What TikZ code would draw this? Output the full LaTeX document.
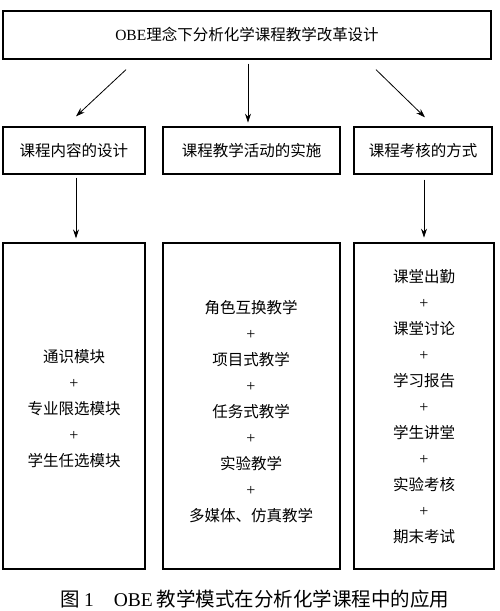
\documentclass[tikz,border=0pt]{standalone}
\usepackage{fontspec}
\setmainfont{Liberation Serif}
\newfontfamily\cjk{Noto Sans CJK SC}
\usetikzlibrary{arrows.meta,calc}
\newcommand{\andsign}{{\rmfamily\fontsize{16}{26}\selectfont +}}

\tikzset{
  box/.style={draw,line width=1.3pt,inner sep=0pt,align=center,
    font=\cjk\fontsize{15.5}{26}\selectfont},
  txt/.style={inner sep=0pt,align=center,font=\cjk\fontsize{15.5}{26}\selectfont},
  arr/.style={-{Stealth[length=9pt,width=6pt]},line width=0.8pt},
}

\begin{document}
\begin{tikzpicture}[x=1pt,y=-1pt]
\useasboundingbox (0,0) rectangle (500,611);
% --- title box ---
\node[box,minimum width=488pt,minimum height=48pt] (top) at (247,35) {{\rmfamily OBE}理念下分析化学课程教学改革设计};

% --- second row ---
\node[box,minimum width=142pt,minimum height=47pt] (c1) at (74,150.5) {课程内容的设计};
\node[box,minimum width=177pt,minimum height=47pt] (c2) at (251.5,150.5) {课程教学活动的实施};
\node[box,minimum width=138pt,minimum height=47pt] (c3) at (423,150.5) {课程考核的方式};

% --- third row ---
\node[box,minimum width=142pt,minimum height=326pt] (d1) at (74,406) {};
\node[box,minimum width=177pt,minimum height=326pt] (d2) at (251.5,406) {};
\node[box,minimum width=140pt,minimum height=326pt] (d3) at (424,406) {};
\node[txt] (d1t) at ($(d1.center)+(0,2.5)$)
  {通识模块\\\andsign\\专业限选模块\\\andsign\\学生任选模块};
\node[txt] (d2t) at ($(d2.center)+(-0.5,5.5)$)
  {角色互换教学\\\andsign\\项目式教学\\\andsign\\任务式教学\\\andsign\\实验教学\\\andsign\\多媒体、仿真教学};
\node[txt] (d3t) at ($(d3.center)+(0,1)$)
  {课堂出勤\\\andsign\\课堂讨论\\\andsign\\学习报告\\\andsign\\学生讲堂\\\andsign\\实验考核\\\andsign\\期末考试};

% --- arrows ---
\draw[arr] ($(top.south)+(-121,10)$) -- ($(c1.north)+(2,-10)$);
\draw[arr] ($(top.south)+(1,4)$) -- ($(top.south)+(1,63)$);
\draw[arr] ($(top.south)+(129,10)$) -- ($(c3.north)+(2,-9)$);
\draw[arr,shorten <=3pt,shorten >=4pt] ($(c1.south)+(2,0)$) -- ($(d1.north)+(2,0)$);
\draw[arr,shorten <=5pt,shorten >=6pt] ($(c3.south)+(1,0)$) -- ($(c3.south)+(1,69)$);

% --- caption ---
\node[font=\fontsize{19.5}{20}\selectfont] (cap) at (255,599)
  {{\cjk 图}\hspace{4pt}1\hspace{20pt}OBE\hspace{4pt}{\cjk 教学模式在分析化学课程中的应用}};
\end{tikzpicture}
\end{document}
